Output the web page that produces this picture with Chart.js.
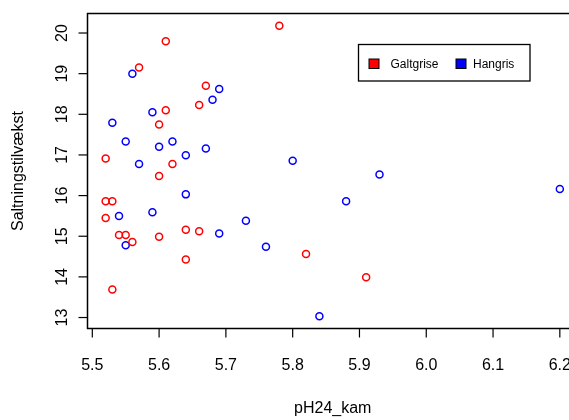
<!DOCTYPE html>
<html>
<head>
<meta charset="utf-8">
<script src="https://cdn.jsdelivr.net/npm/chart.js@4"></script>
<style>
  html, body { margin: 0; padding: 0; background: #fff; overflow: hidden; width: 569px; height: 420px; }
</style>
</head>
<body>
<canvas id="phChart" width="600" height="420"></canvas>
<script>
// data
var galtX = [5.78, 5.61, 5.57, 5.67, 5.66, 5.61, 5.60, 5.52, 5.62, 5.60, 5.52, 5.53,
             5.52, 5.54, 5.55, 5.56, 5.60, 5.64, 5.66, 5.64, 5.53, 5.82, 5.91];
var galtY = [20.18, 19.80, 19.15, 18.70, 18.23, 18.10, 17.75, 16.91, 16.78, 16.48, 15.86, 15.86,
             15.45, 15.03, 15.03, 14.86, 14.99, 15.16, 15.12, 14.43, 13.69, 14.56, 13.99];
var hanX = [5.56, 5.69, 5.68, 5.59, 5.53, 5.55, 5.62, 5.60, 5.67, 5.64, 5.57, 5.80,
            5.93, 6.20, 5.64, 5.88, 5.59, 5.54, 5.73, 5.69, 5.55, 5.76, 5.84];
var hanY = [19.00, 18.62, 18.36, 18.05, 17.79, 17.33, 17.33, 17.20, 17.16, 16.99, 16.78, 16.86,
            16.52, 16.16, 16.03, 15.86, 15.59, 15.50, 15.38, 15.07, 14.78, 14.74, 13.03];
var xTicks = [5.5, 5.6, 5.7, 5.8, 5.9, 6.0, 6.1, 6.2];
var yTicks = [13, 14, 15, 16, 17, 18, 19, 20];
var seriesNames = ["Galtgrise", "Hangris"];

function toPoints(xs, ys) {
    var out = [];
    for (var i = 0; i < xs.length; i++) out.push({x: xs[i], y: ys[i]});
    return out;
}

var FONT = "'Liberation Sans', Arial, sans-serif";

// R style box, ticks, labels and legend
var baseAxes = {
    id: 'baseAxes',
    afterDraw: function (chart) {
        var c = chart.ctx, a = chart.chartArea;
        var xs = chart.scales.x, ys = chart.scales.y;
        c.save();
        c.strokeStyle = '#000';
        c.fillStyle = '#000';
        c.lineWidth = 1.5;
        c.strokeRect(a.left, a.top, a.right - a.left, a.bottom - a.top);

        c.lineWidth = 1.2;
        c.font = '16px ' + FONT;
        c.textAlign = 'center';
        c.textBaseline = 'middle';
        xTicks.forEach(function (t) {
            var px = xs.getPixelForValue(t);
            c.beginPath(); c.moveTo(px, a.bottom); c.lineTo(px, a.bottom + 9); c.stroke();
            c.fillText(t.toFixed(1), px, a.bottom + 37);
        });
        yTicks.forEach(function (t) {
            var py = ys.getPixelForValue(t);
            c.beginPath(); c.moveTo(a.left, py); c.lineTo(a.left - 9, py); c.stroke();
            c.save();
            c.translate(a.left - 25, py);
            c.rotate(-Math.PI / 2);
            c.fillText(String(t), 0, 0);
            c.restore();
        });

        // axis titles
        c.fillText('pH24_kam', (a.left + a.right) / 2, a.bottom + 80);
        c.save();
        c.translate(19, (a.top + a.bottom) / 2);
        c.rotate(-Math.PI / 2);
        c.fillText('Saltningstilvækst', 0, 0);
        c.restore();

        // legend
        var lx = 358.5, ly = 44.5, lw = 171.5, lh = 36.5;
        c.fillStyle = '#fff';
        c.fillRect(lx, ly, lw, lh);
        c.lineWidth = 1.3;
        c.strokeRect(lx, ly, lw, lh);
        c.font = '12px ' + FONT;
        c.textAlign = 'left';
        var cols = ['#ff0000', '#0000ff'];
        var sx = [369, 456], tx = [390.5, 473];
        for (var i = 0; i < seriesNames.length; i++) {
            c.fillStyle = cols[i];
            c.fillRect(sx[i], 59, 10, 9.5);
            c.lineWidth = 1;
            c.strokeRect(sx[i], 59, 10, 9.5);
            c.fillStyle = '#000';
            c.fillText(seriesNames[i], tx[i], 64.5);
        }
        c.restore();
    }
};

var ctx = document.getElementById("phChart");
var myChart = new Chart(ctx, {
    type: 'scatter',
    data: {
        datasets: [
            {
                label: seriesNames[0],
                data: toPoints(galtX, galtY),
                borderColor: '#ff0000',
                backgroundColor: 'rgba(0,0,0,0)',
                borderWidth: 1.5,
                pointRadius: 3.5,
                pointHoverRadius: 3.5
            },
            {
                label: seriesNames[1],
                data: toPoints(hanX, hanY),
                borderColor: '#0000ff',
                backgroundColor: 'rgba(0,0,0,0)',
                borderWidth: 1.5,
                pointRadius: 3.5,
                pointHoverRadius: 3.5
            }
        ]
    },
    options: {
        responsive: false,
        animation: false,
        devicePixelRatio: 1,
        layout: {
            padding: {left: 87.5, top: 13.5, right: 22, bottom: 91.5}
        },
        plugins: {
            legend: {display: false},
            tooltip: {enabled: false}
        },
        scales: {
            x: {type: 'linear', min: 5.4928, max: 6.2272, display: false},
            y: {type: 'linear', min: 12.73, max: 20.48, display: false}
        }
    },
    plugins: [baseAxes]
});
</script>
</body>
</html>
